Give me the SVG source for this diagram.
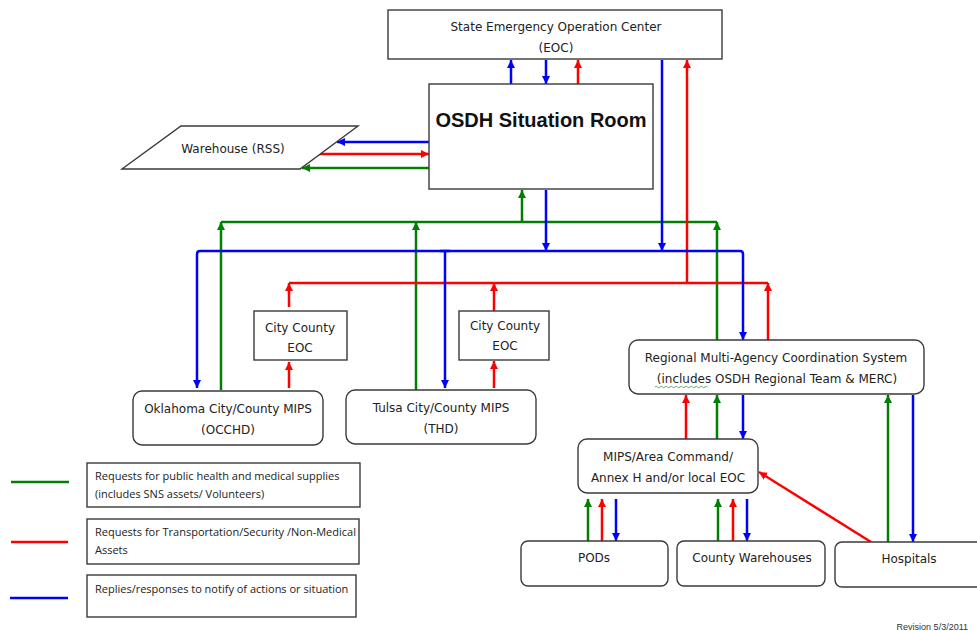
<svg xmlns="http://www.w3.org/2000/svg" width="977" height="631" viewBox="0 0 977 631">
<style>
.box{fill:#fff;stroke:#3a3a3a;stroke-width:1.4}
.t{font-family:"DejaVu Sans",Verdana,sans-serif;font-size:12px;fill:#222;text-anchor:middle}
.lg{font-family:"Open Sans","Liberation Sans",sans-serif;font-size:11px;fill:#222}
.g{stroke:#008000;stroke-width:2.5;fill:none}
.r{stroke:#ff0000;stroke-width:2.5;fill:none}
.b{stroke:#0000ff;stroke-width:2.5;fill:none}
</style>
<defs>
<marker id="ag" markerUnits="userSpaceOnUse" markerWidth="9" markerHeight="9" refX="8" refY="4" orient="auto"><path d="M0,0 L8,4 L0,8 z" fill="#008000"/></marker>
<marker id="ar" markerUnits="userSpaceOnUse" markerWidth="9" markerHeight="9" refX="8" refY="4" orient="auto"><path d="M0,0 L8,4 L0,8 z" fill="#ff0000"/></marker>
<marker id="ab" markerUnits="userSpaceOnUse" markerWidth="9" markerHeight="9" refX="8" refY="4" orient="auto"><path d="M0,0 L8,4 L0,8 z" fill="#0000ff"/></marker>
</defs>
<rect width="977" height="631" fill="#fff"/>

<g id="connectors">
  <!-- green -->
  <path class="g" d="M221,222 L717,222"/>
  <path class="g" d="M221,390 L221,222" marker-end="url(#ag)"/>
  <path class="g" d="M416,390 L416,222" marker-end="url(#ag)"/>
  <path class="g" d="M522,222 L522,190" marker-end="url(#ag)"/>
  <path class="g" d="M717,340 L717,222" marker-end="url(#ag)"/>
  <path class="g" d="M717,439 L717,395" marker-end="url(#ag)"/>
  <path class="g" d="M888,542 L888,395" marker-end="url(#ag)"/>
  <path class="g" d="M588,541 L588,499" marker-end="url(#ag)"/>
  <path class="g" d="M718,541 L718,499" marker-end="url(#ag)"/>
  <path class="g" d="M429,168 L302,168" marker-end="url(#ag)"/>
  <!-- red -->
  <path class="r" d="M578,84 L578,60" marker-end="url(#ar)"/>
  <path class="r" d="M319,154 L429,154" marker-end="url(#ar)"/>
  <path class="r" d="M289,283 L768,283"/>
  <path class="r" d="M687,283 L687,60" marker-end="url(#ar)"/>
  <path class="r" d="M289,307 L289,283" marker-end="url(#ar)"/>
  <path class="r" d="M289,388 L289,362" marker-end="url(#ar)"/>
  <path class="r" d="M494,311 L494,283" marker-end="url(#ar)"/>
  <path class="r" d="M494,388 L494,361" marker-end="url(#ar)"/>
  <path class="r" d="M768,340 L768,283" marker-end="url(#ar)"/>
  <path class="r" d="M686,439 L686,395" marker-end="url(#ar)"/>
  <path class="r" d="M602,541 L602,499" marker-end="url(#ar)"/>
  <path class="r" d="M733,541 L733,499" marker-end="url(#ar)"/>
  <path class="r" d="M871,542 L759,472" marker-end="url(#ar)"/>
  <!-- blue -->
  <path class="b" d="M511,84 L511,60" marker-end="url(#ab)"/>
  <path class="b" d="M546,60 L546,84" marker-end="url(#ab)"/>
  <path class="b" d="M429,142 L337,142" marker-end="url(#ab)"/>
  <path class="b" d="M546,190 L546,251" marker-end="url(#ab)"/>
  <path class="b" d="M662,60 L662,251" marker-end="url(#ab)"/>
  <path class="b" d="M450,251 L200,251 Q197,251 197,254 L197,388" marker-end="url(#ab)"/>
  <path class="b" d="M440,251 L740,251 Q743,251 743,254 L743,340" marker-end="url(#ab)"/>
  <path class="b" d="M445,251 L445,388" marker-end="url(#ab)"/>
  <path class="b" d="M743,395 L743,439" marker-end="url(#ab)"/>
  <path class="b" d="M913,395 L913,542" marker-end="url(#ab)"/>
  <path class="b" d="M616,499 L616,541" marker-end="url(#ab)"/>
  <path class="b" d="M747,499 L747,541" marker-end="url(#ab)"/>
</g>

<g id="state-eoc">
  <rect class="box" x="388" y="10" width="334" height="49"/>
  <text class="t" x="556" y="31">State Emergency Operation Center</text>
  <text class="t" x="556" y="52">(EOC)</text>
</g>
<g id="osdh">
  <rect class="box" x="429" y="84" width="224" height="105"/>
  <text x="541" y="127" font-family="'Liberation Sans',Arial,sans-serif" font-size="20" font-weight="bold" fill="#111" text-anchor="middle">OSDH Situation Room</text>
</g>
<g id="warehouse">
  <polygon class="box" points="181,126 358,126 300,169 122,169"/>
  <text class="t" x="233" y="153">Warehouse (RSS)</text>
</g>
<g id="cc-eoc-1">
  <rect class="box" x="254" y="311" width="93" height="49"/>
  <text class="t" x="300" y="332">City County</text>
  <text class="t" x="300" y="352">EOC</text>
</g>
<g id="cc-eoc-2">
  <rect class="box" x="459" y="311" width="90" height="49"/>
  <text class="t" x="505" y="330">City County</text>
  <text class="t" x="505" y="350">EOC</text>
</g>
<g id="occhd">
  <rect class="box" x="133" y="391" width="190" height="54" rx="9"/>
  <text class="t" x="228" y="413">Oklahoma City/County MIPS</text>
  <text class="t" x="228" y="434">(OCCHD)</text>
</g>
<g id="thd">
  <rect class="box" x="346" y="390" width="190" height="54" rx="9"/>
  <text class="t" x="441" y="412">Tulsa City/County MIPS</text>
  <text class="t" x="441" y="433">(THD)</text>
</g>
<g id="regional-macs">
  <rect class="box" x="629" y="340" width="295" height="54" rx="9"/>
  <text class="t" x="776" y="362">Regional Multi-Agency Coordination System</text>
  <text class="t" x="777" y="383">(includes OSDH Regional Team &amp; MERC)</text>
  <path d="M655,387 q1.25,-1.5 2.5,0 t2.5,0 t2.5,0 t2.5,0 t2.5,0 t2.5,0 t2.5,0 t2.5,0 t2.5,0 t2.5,0 t2.5,0 t2.5,0 t2.5,0 t2.5,0 t2.5,0 t2.5,0 t2.5,0 t2.5,0 t2.5,0 t2.5,0 t2.5,0" fill="none" stroke="#3a9a3a" stroke-width="0.8"/>
</g>
<g id="mips">
  <rect class="box" x="578" y="439" width="180" height="54" rx="9"/>
  <text class="t" x="668" y="461">MIPS/Area Command/</text>
  <text class="t" x="668" y="482">Annex H and/or local EOC</text>
</g>
<g id="pods">
  <rect class="box" x="521" y="541" width="147" height="45" rx="7"/>
  <text class="t" x="594" y="562">PODs</text>
</g>
<g id="county-warehouses">
  <rect class="box" x="677" y="541" width="148" height="45" rx="7"/>
  <text class="t" x="752" y="562">County Warehouses</text>
</g>
<g id="hospitals">
  <rect class="box" x="835" y="542" width="150" height="45" rx="7"/>
  <text class="t" x="909" y="563">Hospitals</text>
</g>

<g id="legend">
  <line x1="11" y1="482" x2="69" y2="482" stroke="#008000" stroke-width="2.5"/>
  <line x1="11" y1="542" x2="68" y2="542" stroke="#ff0000" stroke-width="2.5"/>
  <line x1="10" y1="598" x2="68" y2="598" stroke="#0000ff" stroke-width="2.5"/>
  <rect class="box" x="87" y="463" width="273" height="44"/>
  <text class="lg" x="95" y="480">Requests for public health and medical supplies</text>
  <text class="lg" x="95" y="498">(includes SNS assets/ Volunteers)</text>
  <rect class="box" x="87" y="519" width="272" height="45"/>
  <text class="lg" x="95" y="536">Requests for Transportation/Security /Non-Medical</text>
  <text class="lg" x="95" y="554">Assets</text>
  <rect class="box" x="87" y="575" width="269" height="42"/>
  <text class="lg" x="95" y="593">Replies/responses to notify of actions or situation</text>
</g>
<text x="968" y="630" font-family="'Liberation Sans',Arial,sans-serif" font-size="9" fill="#333" text-anchor="end">Revision 5/3/2011</text>
</svg>
